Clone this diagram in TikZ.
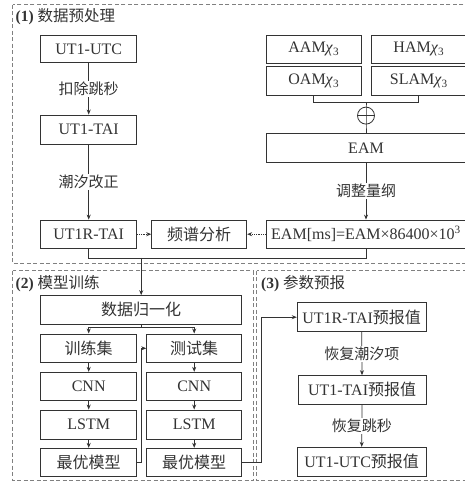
\documentclass[tikz,border=0pt]{standalone}
\usepackage{fontspec}
\setmainfont{Liberation Serif}
\newfontfamily\cjk{Noto Sans CJK SC}
\usetikzlibrary{arrows.meta,calc}
\definecolor{ink}{HTML}{333333}
\newcommand{\chith}{\textit{χ}\textsubscript{3}}
\begin{document}
\begin{tikzpicture}[x=1pt,y=-1pt,
  box/.style={draw=ink, line width=0.9pt, inner sep=0pt, text=ink,
    font=\fontsize{16}{18}\selectfont, minimum height=28.5pt},
  lbl/.style={fill=white, inner sep=1pt, text=ink, font=\fontsize{15}{18}\selectfont\cjk},
  ttl/.style={anchor=west, inner sep=0pt, text=ink, font=\fontsize{15.5}{18}\selectfont},
  frm/.style={draw=gray, line width=0.6pt, dash pattern=on 4pt off 2.5pt},
  ln/.style={draw=ink, line width=0.8pt},
  arr/.style={ln, -{Stealth[length=5pt,width=4pt]}},
  dotarr/.style={arr, densely dotted}]
\useasboundingbox (0,0) rectangle (464,486);
\fill[white] (0,0) rectangle (464,486);
% frames
\draw[frm] (12.7,4.7) rectangle (470,263.5);
\draw[frm] (12.7,270.7) rectangle (253,480.7);
\draw[frm] (256.5,270.7) rectangle (470,480.7);
\node[ttl] (t1) at (15.5,17) {\textbf{(1)} {\cjk 数据预处理}};
\node[ttl] (t2) at (15.5,283.5) {\textbf{(2)} {\cjk 模型训练}};
\node[ttl] (t3) at (261,283.5) {\textbf{(3)} {\cjk 参数预报}};
% part 1
\node[box, minimum width=96pt, minimum height=26.7pt] (utc) at (88.7,49.3) {UT1-UTC};
\node[box, minimum width=96pt, minimum height=29pt] (tai) at (88.7,129.5) {UT1-TAI};
\node[box, minimum width=96pt, minimum height=28.3pt] (ut1r) at (88.7,234.2) {UT1R-TAI};
\node[box, minimum width=95pt, minimum height=28.3pt] (fft) at (199.2,234.2) {\cjk 频谱分析};
\node[box, minimum width=95.7pt, minimum height=28.3pt] (aam) at (313.8,49.2) {AAM\chith};
\node[box, minimum width=94.3pt, minimum height=28.3pt] (ham) at (418.85,49.2) {HAM\chith};
\node[box, minimum width=95.7pt, minimum height=28.3pt] (oam) at (313.8,80.9) {OAM\chith};
\node[box, minimum width=94.3pt, minimum height=28.3pt] (slam) at (418.85,80.9) {SLAM\chith};
\node[circle, draw=ink, line width=0.8pt, minimum size=17pt, inner sep=0pt] (plus) at (366,115.6) {};
\node[box, minimum width=200pt, minimum height=29pt] (eam) at (366,147.8) {EAM};
\node[box, minimum width=200pt, minimum height=28.3pt] (ms) at (366,234.2) {EAM[ms]=EAM×86400×10\textsuperscript{3}};
\coordinate (junc) at (366,102.7);
\draw[ln] (oam.south) -- (oam.south |- junc) -- (slam.south |- junc) -- (slam.south);
\draw[ln] (junc) -- (plus.north) -- (plus.south) -- (eam.north);
\draw[ln] (plus.west) -- (plus.east);
\draw[arr] (utc) -- node[lbl] {扣除跳秒} (tai);
\draw[arr] (tai) -- node[lbl] {潮汐改正} (ut1r);
\draw[arr] (eam) -- node[lbl] {调整量纲} (ms);
\draw[dotarr] (ut1r) -- (fft);
\draw[dotarr] (ms) -- (fft);
\coordinate (bus) at (141.2,257.9);
\draw[ln] (ut1r.south) |- (bus) -| (ms.south);
% part 2
\node[box, minimum width=201pt, minimum height=28.3pt] (norm) at (141.2,309.8) {\cjk 数据归一化};
\node[box, minimum width=96pt, minimum height=28.7pt] (train) at (88.7,348.3) {\cjk 训练集};
\node[box, minimum width=95pt, minimum height=28.7pt] (test) at (194.2,348.3) {\cjk 测试集};
\node[box, minimum width=96pt, minimum height=28.4pt] (cnna) at (88.7,386.5) {CNN};
\node[box, minimum width=95pt, minimum height=28.4pt] (cnnb) at (194.2,386.5) {CNN};
\node[box, minimum width=96pt, minimum height=29pt] (lstma) at (88.7,424.5) {LSTM};
\node[box, minimum width=95pt, minimum height=29pt] (lstmb) at (194.2,424.5) {LSTM};
\node[box, minimum width=96pt, minimum height=28.4pt] (besta) at (88.7,462.5) {\cjk 最优模型};
\node[box, minimum width=95pt, minimum height=28.4pt] (bestb) at (194.2,462.5) {\cjk 最优模型};
\draw[arr] (bus) -- (norm.north);
\coordinate (split) at (141.2,327);
\draw[ln] (norm.south) -- (split);
\draw[arr] (split) -| (train.north);
\draw[arr] (split) -| (test.north);
\draw[arr] (train) -- (cnna);
\draw[arr] (cnna) -- (lstma);
\draw[arr] (lstma) -- (besta);
\draw[arr] (test) -- (cnnb);
\draw[arr] (cnnb) -- (lstmb);
\draw[arr] (lstmb) -- (bestb);
\coordinate (ka) at (141.2,462.5);
\draw[arr] (besta.east) -- (ka) |- (test.west);
% part 3
\node[box, minimum width=128.7pt, minimum height=29pt] (pa) at (361.6,317.2) {UT1R-TAI{\cjk 预报值}};
\node[box, minimum width=127.7pt, minimum height=28.3pt] (pb) at (362.1,389.8) {UT1-TAI{\cjk 预报值}};
\node[box, minimum width=128.7pt, minimum height=28.7pt] (pc) at (361.6,461.7) {UT1-UTC{\cjk 预报值}};
\coordinate (kb) at (261.7,462.5);
\draw[arr] (bestb.east) -- (kb) |- (pa.west);
\draw[arr] (pa) -- node[lbl] {恢复潮汐项} (pb);
\draw[arr] (pb) -- node[lbl] {恢复跳秒} (pc);
\end{tikzpicture}
\end{document}
